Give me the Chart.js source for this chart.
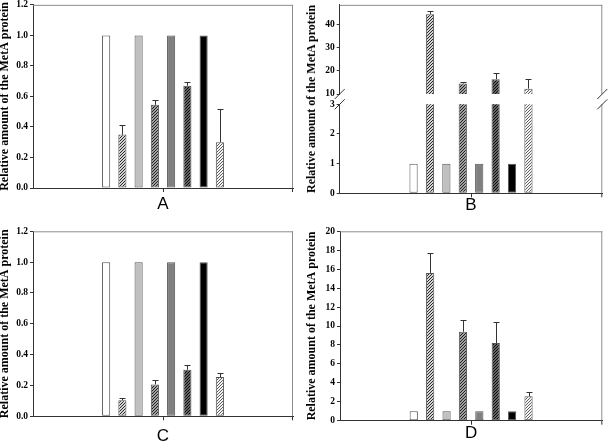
<!DOCTYPE html>
<html>
<head>
<meta charset="utf-8">
<script src="https://cdn.jsdelivr.net/npm/chart.js@4.4.0/dist/chart.umd.min.js"></script>
<style>
    body { margin: 0; background: #fff; width: 608px; height: 443px; position: relative; overflow: hidden; }
    canvas { position: absolute; display: block; }
    #titleB {
        position: absolute; left: 311px; top: 99px;
        transform: translate(-50%, -50%) rotate(-90deg);
        font: bold 12px "Liberation Serif"; line-height: 12px; white-space: nowrap; color: #000;
    }
</style>
</head>
<body>
<canvas id="chartA" width="304" height="222" style="left:0;top:0"></canvas>
<canvas id="chartBHigh" width="304" height="110" style="left:304px;top:0"></canvas>
<canvas id="chartBLow" width="304" height="132" style="left:304px;top:90px"></canvas>
<canvas id="chartC" width="304" height="230" style="left:0;top:222px"></canvas>
<canvas id="chartD" width="304" height="230" style="left:304px;top:222px"></canvas>
<div id="titleB">Relative amount of the MetA protein</div>
<script>
const panelLabels = ['A', 'B', 'C', 'D'];
const yTitle = 'Relative amount of the MetA protein';

// eight bars per panel, same order in every panel
const valuesA = [1, 0.35, 1, 0.545, 1, 0.67, 1, 0.30];
const errorsA = [0, 0.065, 0, 0.03, 0, 0.022, 0, 0.22];
const valuesB = [1, 44.4, 1, 14.5, 1, 16.4, 1, 12.3];
const errorsB = [0, 1.2, 0, 0.75, 0, 2.6, 0, 4.1];
const valuesC = [1, 0.104, 1, 0.207, 1, 0.302, 1, 0.255];
const errorsC = [0, 0.015, 0, 0.028, 0, 0.033, 0, 0.028];
const valuesD = [1, 15.6, 1, 9.4, 1, 8.2, 1, 2.57];
const errorsD = [0, 2.1, 0, 1.27, 0, 2.26, 0, 0.49];

const yTicksAC = [0, 0.2, 0.4, 0.6, 0.8, 1.0, 1.2];
const yTicksBLow = [0, 1, 2, 3];
const yTicksBHigh = [10, 20, 30, 40];
const yTicksD = [0, 2, 4, 6, 8, 10, 12, 14, 16, 18, 20];

function hatch(bg, fg) {
    let c = document.createElement('canvas');
    c.width = 3; c.height = 3;
    let g = c.getContext('2d');
    g.fillStyle = bg; g.fillRect(0, 0, 3, 3);
    g.fillStyle = fg;
    for (let x = 0; x < 3; x++) g.fillRect(x, 2 - x, 1, 1);
    return g.createPattern(c, 'repeat');
}

const fills = [
    '#ffffff', hatch('#d4d4d4', '#2a2a2a'),
    '#c0c0c0', hatch('#a0a0a0', '#222222'),
    '#808080', hatch('#646464', '#0c0c0c'),
    '#000000', hatch('#f4f4f4', '#5e5e5e')
];

const errorBars = {
    id: 'errorBars',
    afterDatasetsDraw(chart) {
        let {ctx, chartArea: a} = chart;
        let y = chart.scales.y;
        ctx.save();
        ctx.beginPath();
        ctx.rect(a.left, a.top, a.right - a.left, a.bottom - a.top);
        ctx.clip();
        ctx.strokeStyle = '#333';
        ctx.lineWidth = 1;
        chart.data.datasets.forEach((ds, i) => {
            let e = ds.errors[0];
            if (!e) return;
            let bar = chart.getDatasetMeta(i).data[0];
            let x = Math.round(bar.x) + 0.5;
            let top = Math.round(y.getPixelForValue(ds.data[0] + e)) + 0.5;
            ctx.beginPath();
            ctx.moveTo(x, bar.y);
            ctx.lineTo(x, top);
            ctx.moveTo(x - 3, top);
            ctx.lineTo(x + 3, top);
            ctx.stroke();
        });
        ctx.restore();
    }
};

const frame = {
    id: 'frame',
    afterDraw(chart, args, o) {
        let {ctx, chartArea: a} = chart;
        ctx.save();
        ctx.lineWidth = 1;
        ctx.strokeStyle = '#8c8c8c';
        ctx.beginPath();
        if (o.top) {
            ctx.moveTo(a.left, a.top + 0.5);
            ctx.lineTo(a.right, a.top + 0.5);
        }
        ctx.moveTo(a.right - 0.5, a.top);
        ctx.lineTo(a.right - 0.5, a.bottom);
        ctx.stroke();
        ctx.strokeStyle = '#333';
        ctx.beginPath();
        if (o.endTick) {
            ctx.moveTo(a.right - 0.5, a.bottom);
            ctx.lineTo(a.right - 0.5, a.bottom + 4);
        }
        if (o.breakAt) {
            let yb = o.breakAt === 'bottom' ? a.bottom : a.top;
            [a.left, a.right].forEach(x => {
                ctx.moveTo(x - 5, yb + 5);
                ctx.lineTo(x + 5, yb - 5);
            });
        }
        ctx.stroke();
        ctx.restore();
    }
};

function panelChart(id, p) {
    let datasets = p.values.map((v, i) => ({
        data: [v],
        errors: [p.errors[i]],
        backgroundColor: fills[i],
        borderColor: '#555',
        borderWidth: 1,
        borderSkipped: false,
        clip: 0,
        categoryPercentage: 0.5,
        barPercentage: 0.5
    }));
    return new Chart(document.getElementById(id), {
        type: 'bar',
        data: { labels: [p.label], datasets: datasets },
        options: {
            responsive: false,
            animation: false,
            events: [],
            layout: { padding: p.padding },
            plugins: {
                legend: { display: false },
                tooltip: { enabled: false },
                frame: p.frame
            },
            scales: {
                x: {
                    display: p.xHeight > 0,
                    afterFit: s => { s.height = p.xHeight; },
                    ticks: { display: false },
                    grid: { offset: false, drawOnChartArea: false, tickLength: 4, color: '#333' },
                    border: { color: '#333' },
                    title: {
                        display: true, text: p.label, color: '#000',
                        font: { family: 'Liberation Sans', size: 17, lineHeight: 1 },
                        padding: { top: 0, bottom: p.titlePad }
                    }
                },
                y: {
                    min: p.min, max: p.max,
                    afterFit: s => { s.width = p.yWidth; },
                    afterBuildTicks: s => { s.ticks = p.ticks.map(v => ({ value: v })); },
                    ticks: {
                        color: '#000', padding: 2,
                        font: { family: 'Liberation Serif', weight: 'bold', size: 9.5, lineHeight: 0.6 },
                        callback: v => p.fmt(v)
                    },
                    grid: { drawOnChartArea: false, tickLength: 3, color: '#333' },
                    border: { color: '#333' },
                    title: {
                        display: p.showTitle, text: yTitle, color: '#000',
                        font: { family: 'Liberation Serif', weight: 'bold', size: 12, lineHeight: 1 },
                        padding: { top: p.yTitlePad || 0, bottom: 0 }
                    }
                }
            }
        },
        plugins: [errorBars, frame]
    });
}

const oneDec = v => v.toFixed(1);
const plain = v => String(v);

panelChart('chartA', {
    label: panelLabels[0], values: valuesA, errors: errorsA,
    min: 0, max: 1.2, ticks: yTicksAC, fmt: oneDec,
    padding: { top: 3, right: 11, left: 0, bottom: 0 },
    yWidth: 33, xHeight: 34, titlePad: 9, showTitle: true, yTitlePad: -1,
    frame: { top: true, endTick: true }
});

panelChart('chartBHigh', {
    label: panelLabels[1], values: valuesB, errors: errorsB,
    min: 10, max: 48.4, ticks: yTicksBHigh, fmt: plain,
    padding: { top: 4, right: 5.7, left: 0, bottom: 16 },
    yWidth: 35.7, xHeight: 0, titlePad: 0, showTitle: false,
    frame: { top: true, breakAt: 'bottom' }
});

panelChart('chartBLow', {
    label: panelLabels[1], values: valuesB, errors: errorsB,
    min: 0, max: 3, ticks: yTicksBLow, fmt: plain,
    padding: { top: 14.3, right: 5.7, left: 0, bottom: 0 },
    yWidth: 35.7, xHeight: 28.7, titlePad: 7.8, showTitle: false,
    frame: { top: false, endTick: true, breakAt: 'top' }
});

panelChart('chartC', {
    label: panelLabels[2], values: valuesC, errors: errorsC,
    min: 0, max: 1.2, ticks: yTicksAC, fmt: oneDec,
    padding: { top: 9.3, right: 11, left: 0, bottom: 0 },
    yWidth: 33, xHeight: 35.7, titlePad: 7.5, showTitle: true, yTitlePad: -1,
    frame: { top: true, endTick: true }
});

panelChart('chartD', {
    label: panelLabels[3], values: valuesD, errors: errorsD,
    min: 0, max: 20, ticks: yTicksD, fmt: plain,
    padding: { top: 9.3, right: 5.7, left: 0, bottom: 0 },
    yWidth: 36, xHeight: 31.3, titlePad: 10, showTitle: true, yTitlePad: 1.5,
    frame: { top: true, endTick: true }
});
</script>
</body>
</html>
